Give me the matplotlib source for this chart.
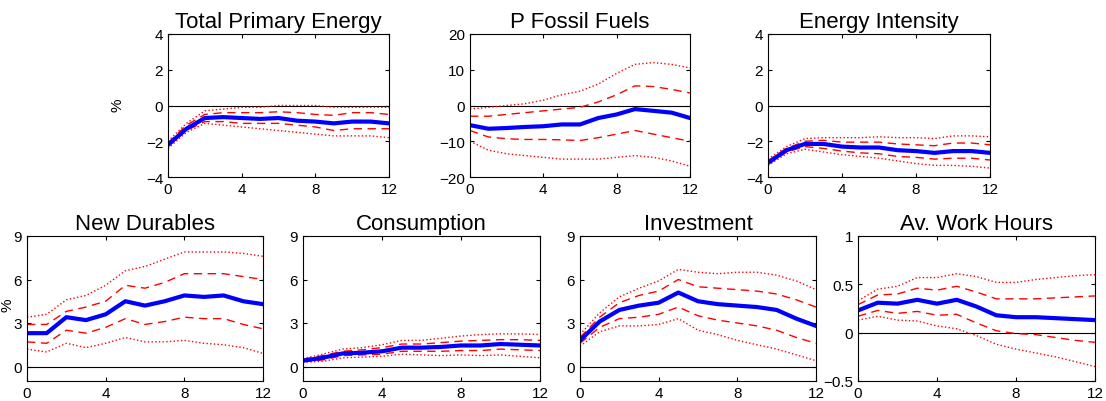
import matplotlib
matplotlib.use('Agg')
import matplotlib.pyplot as plt
import numpy as np

plt.rcParams['font.family'] = ['Liberation Sans', 'DejaVu Sans']

h = np.arange(13)

titles = ['Total Primary Energy', 'P Fossil Fuels', 'Energy Intensity',
          'New Durables', 'Consumption', 'Investment', 'Av. Work Hours']

median = [
    [-2.2, -1.3, -0.7, -0.65, -0.7, -0.75, -0.7, -0.85, -0.9, -1.0, -0.9, -0.9, -1.0],
    [-5.5, -6.5, -6.3, -6, -5.8, -5.3, -5.3, -3.5, -2.5, -1, -1.5, -2, -3.5],
    [-3.2, -2.5, -2.15, -2.15, -2.3, -2.35, -2.35, -2.5, -2.55, -2.65, -2.55, -2.55, -2.65],
    [2.3, 2.3, 3.4, 3.2, 3.6, 4.5, 4.2, 4.5, 4.9, 4.8, 4.9, 4.5, 4.3],
    [0.4, 0.6, 0.9, 0.95, 1.05, 1.3, 1.3, 1.35, 1.45, 1.45, 1.55, 1.5, 1.45],
    [1.8, 3.1, 3.9, 4.2, 4.4, 5.1, 4.5, 4.3, 4.2, 4.1, 3.9, 3.3, 2.8],
    [0.23, 0.31, 0.30, 0.34, 0.30, 0.34, 0.27, 0.18, 0.16, 0.16, 0.15, 0.14, 0.13],
]
inner_hi = [
    [-2.1, -1.1, -0.5, -0.4, -0.4, -0.4, -0.35, -0.4, -0.5, -0.55, -0.4, -0.4, -0.5],
    [-3, -3, -2.5, -2, -1.5, -1, -0.5, 1, 3, 5.5, 5.3, 4.5, 3.5],
    [-3.1, -2.4, -2.0, -1.95, -2.05, -2.05, -2.05, -2.15, -2.2, -2.25, -2.1, -2.1, -2.2],
    [2.9, 2.9, 3.8, 4.1, 4.5, 5.6, 5.4, 5.8, 6.4, 6.4, 6.4, 6.2, 6.0],
    [0.5, 0.75, 1.05, 1.15, 1.3, 1.55, 1.55, 1.65, 1.75, 1.8, 1.85, 1.85, 1.8],
    [2.0, 3.4, 4.4, 4.9, 5.2, 6.0, 5.5, 5.4, 5.3, 5.2, 5.0, 4.6, 4.1],
    [0.29, 0.39, 0.40, 0.46, 0.44, 0.48, 0.42, 0.35, 0.35, 0.35, 0.36, 0.37, 0.38],
]
inner_lo = [
    [-2.3, -1.4, -0.9, -0.9, -1.0, -1.0, -1.0, -1.1, -1.2, -1.4, -1.3, -1.3, -1.3],
    [-7, -8.8, -9.3, -9.5, -9.5, -9.6, -9.8, -9, -8, -7, -8, -9, -10],
    [-3.3, -2.6, -2.3, -2.4, -2.55, -2.65, -2.7, -2.85, -2.9, -3.0, -2.95, -2.95, -3.05],
    [1.7, 1.6, 2.5, 2.3, 2.7, 3.3, 2.9, 3.1, 3.4, 3.3, 3.3, 2.9, 2.6],
    [0.35, 0.45, 0.75, 0.8, 0.85, 1.05, 1.05, 1.05, 1.1, 1.1, 1.2, 1.15, 1.1],
    [1.6, 2.7, 3.3, 3.4, 3.6, 4.1, 3.5, 3.2, 3.0, 2.8, 2.5, 2.0, 1.6],
    [0.17, 0.23, 0.20, 0.22, 0.18, 0.19, 0.10, 0.02, -0.01, -0.02, -0.05, -0.08, -0.1],
]
outer_hi = [
    [-2.0, -1.0, -0.3, -0.2, -0.1, -0.1, 0.0, 0.0, 0.0, -0.1, -0.1, -0.1, -0.1],
    [-1, -0.5, 0, 0.5, 1.5, 3, 4, 6, 9, 11.5, 12, 11.5, 10.5],
    [-3.0, -2.3, -1.85, -1.8, -1.8, -1.8, -1.75, -1.8, -1.8, -1.85, -1.7, -1.7, -1.75],
    [3.4, 3.6, 4.6, 4.9, 5.6, 6.6, 6.9, 7.4, 7.9, 7.9, 7.9, 7.8, 7.6],
    [0.55, 0.85, 1.2, 1.3, 1.5, 1.8, 1.8, 1.95, 2.1, 2.2, 2.25, 2.25, 2.2],
    [2.2, 3.7, 4.8, 5.4, 5.9, 6.7, 6.5, 6.4, 6.5, 6.5, 6.3, 5.9, 5.3],
    [0.33, 0.45, 0.48, 0.57, 0.57, 0.61, 0.58, 0.52, 0.52, 0.55, 0.57, 0.59, 0.60],
]
outer_lo = [
    [-2.4, -1.5, -1.0, -1.1, -1.2, -1.3, -1.4, -1.5, -1.6, -1.7, -1.7, -1.7, -1.8],
    [-10, -12.5, -13.5, -14, -14.5, -15, -15, -15, -14.5, -14, -14.5, -15.5, -17],
    [-3.35, -2.7, -2.45, -2.6, -2.75, -2.85, -2.95, -3.1, -3.25, -3.35, -3.35, -3.4, -3.5],
    [1.2, 1.0, 1.6, 1.3, 1.6, 2.0, 1.7, 1.7, 1.8, 1.6, 1.5, 1.3, 0.9],
    [0.3, 0.35, 0.6, 0.65, 0.7, 0.85, 0.8, 0.75, 0.8, 0.75, 0.8, 0.7, 0.6],
    [1.4, 2.4, 2.8, 2.8, 2.9, 3.3, 2.5, 2.2, 1.8, 1.5, 1.2, 0.8, 0.4],
    [0.13, 0.17, 0.13, 0.12, 0.07, 0.04, -0.03, -0.12, -0.17, -0.21, -0.25, -0.3, -0.35],
]
ylims = [(-4, 4), (-20, 20), (-4, 4), (-1, 9), (-1, 9), (-1, 9), (-0.5, 1)]
yticks = [[-4, -2, 0, 2, 4], [-20, -10, 0, 10, 20], [-4, -2, 0, 2, 4],
          [0, 3, 6, 9], [0, 3, 6, 9], [0, 3, 6, 9], [-0.5, 0, 0.5, 1]]
yticklabels = [None, None, None, None, None, None, ['\u22120.5', '0', '0.5', '1']]

W, H = 1106, 402
# axes boxes in pixels: left, top, right, bottom
boxes = [(168, 35, 389, 178), (470, 35, 690, 178), (768, 35, 990, 178),
         (27, 237, 263, 382), (303, 237, 540, 382), (580, 237, 816, 382), (858, 237, 1095, 382)]

fig = plt.figure(figsize=(W / 100, H / 100), dpi=100)
for i, (l, t, r, b) in enumerate(boxes):
    ax = fig.add_axes([l / W, 1 - b / H, (r - l) / W, (b - t) / H])
    ax.axhline(0, color='black', lw=0.8)
    ax.plot(h, outer_hi[i], color='red', ls=':', lw=1)
    ax.plot(h, outer_lo[i], color='red', ls=':', lw=1)
    ax.plot(h, inner_hi[i], color='red', ls=(0, (6, 4)), lw=1)
    ax.plot(h, inner_lo[i], color='red', ls=(0, (6, 4)), lw=1)
    ax.plot(h, median[i], color='blue', lw=3)
    ax.set_xlim(0, 12)
    ax.set_ylim(*ylims[i])
    ax.set_xticks([0, 4, 8, 12])
    ax.set_yticks(yticks[i])
    if yticklabels[i]:
        ax.set_yticklabels(yticklabels[i])
    ax.tick_params(direction='in', labelsize=11, length=3, top=True, right=True)
    ax.set_title(titles[i], fontsize=16, pad=5)

fig.text(118 / W, 1 - 105 / H, '%', fontsize=11, rotation=90, ha='center', va='center')
fig.text(8 / W, 1 - 305 / H, '%', fontsize=11, rotation=90, ha='center', va='center')

fig.savefig('out.png', dpi=100)
